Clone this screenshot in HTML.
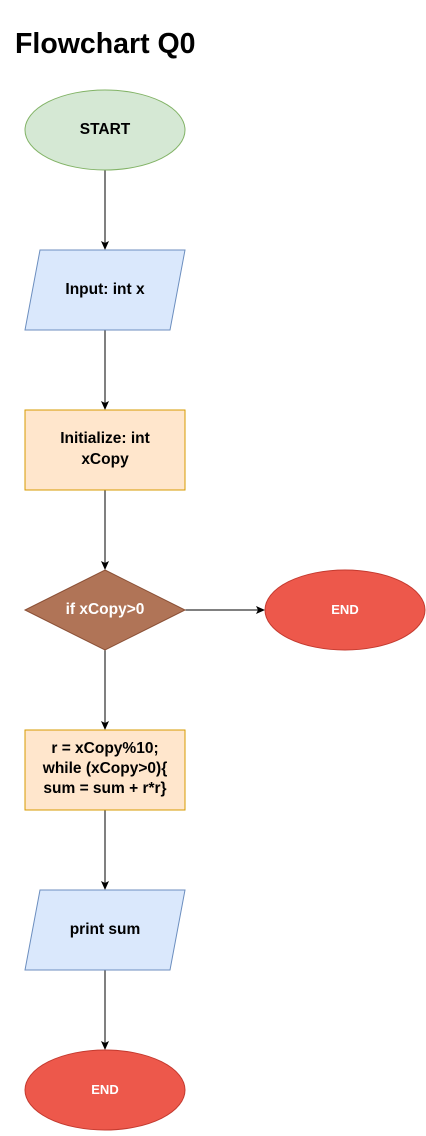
<!DOCTYPE html><html><head><style>body{margin:0;background:#fff}</style></head><body>
<svg width="426" height="1131" xmlns="http://www.w3.org/2000/svg" font-family="Liberation Sans, sans-serif" font-weight="bold" font-size="15.5" text-anchor="middle">
<defs><marker id="a" markerWidth="10" markerHeight="10" refX="8" refY="4" orient="auto" markerUnits="userSpaceOnUse"><path d="M0,0 L9,4 L0,8 L2,4 z" fill="#000"/></marker></defs>
<text x="15" y="53" font-size="28.5" text-anchor="start">Flowchart Q0</text>
<g stroke="#000" stroke-width="1" fill="none" marker-end="url(#a)">
<line x1="105" y1="170" x2="105" y2="249"/>
<line x1="105" y1="330" x2="105" y2="409"/>
<line x1="105" y1="490" x2="105" y2="569"/>
<line x1="105" y1="650" x2="105" y2="729"/>
<line x1="185" y1="610" x2="264" y2="610"/>
<line x1="105" y1="810" x2="105" y2="889"/>
<line x1="105" y1="970" x2="105" y2="1049"/>
</g>
<ellipse cx="105" cy="130" rx="80" ry="40" fill="#d5e8d4" stroke="#82b366"/>
<text x="105" y="134">START</text>
<polygon points="40,250 185,250 170,330 25,330" fill="#dae8fc" stroke="#6c8ebf"/>
<text x="105" y="294">Input: int x</text>
<rect x="25" y="410" width="160" height="80" fill="#ffe6cc" stroke="#d79b00"/>
<text x="105" y="443">Initialize: int</text><text x="105" y="464">xCopy</text>
<polygon points="105,570 185,610 105,650 25,610" fill="#b07457" stroke="#8a4f35"/>
<text x="105" y="614" fill="#fff">if xCopy&gt;0</text>
<ellipse cx="345" cy="610" rx="80" ry="40" fill="#ed584b" stroke="#c43a2f"/>
<text x="345" y="614" fill="#fff" font-size="13">END</text>
<rect x="25" y="730" width="160" height="80" fill="#ffe6cc" stroke="#d79b00"/>
<text x="105" y="753">r = xCopy%10;</text><text x="105" y="773">while (xCopy&gt;0){</text><text x="105" y="793">sum = sum + r*r}</text>
<polygon points="40,890 185,890 170,970 25,970" fill="#dae8fc" stroke="#6c8ebf"/>
<text x="105" y="934">print sum</text>
<ellipse cx="105" cy="1090" rx="80" ry="40" fill="#ed584b" stroke="#c43a2f"/>
<text x="105" y="1094" fill="#fff" font-size="13">END</text>
</svg></body></html>
